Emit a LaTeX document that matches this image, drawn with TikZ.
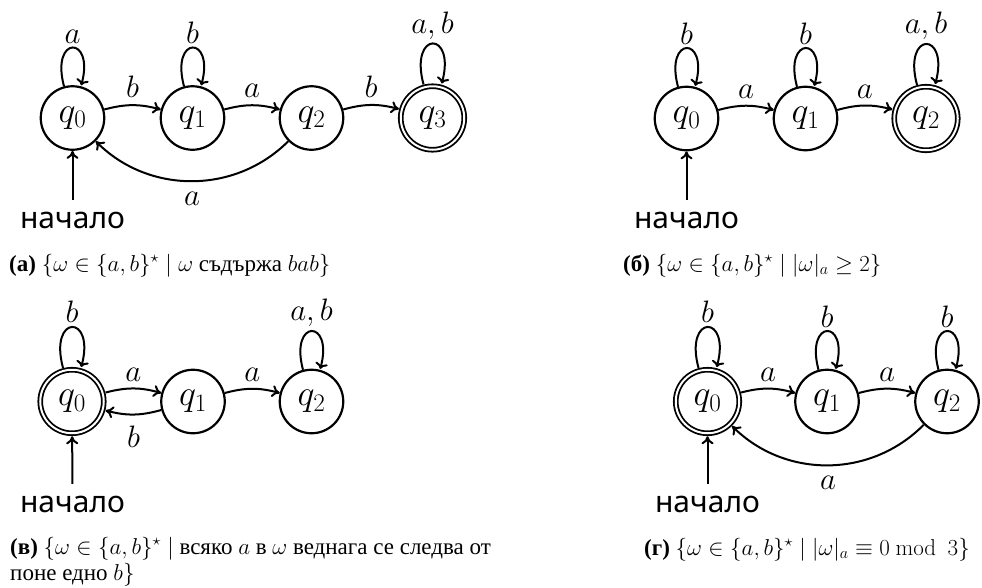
\RequirePackage{fix-cm}
\documentclass[tikz,border=0pt]{standalone}
\usepackage{amsmath}
\usepackage[no-math]{fontspec}
\setmainfont{Liberation Serif}
\newfontfamily\startfont{Noto Sans}
\usetikzlibrary{arrows.meta}
\begin{document}
\begin{tikzpicture}[x=1pt,y=-1pt,
  state/.style={circle, draw, line width=2.2pt, minimum size=63.5pt, inner sep=0pt, outer sep=1.1pt,
    font=\fontsize{36}{38}\selectfont},
  acc/.style={state, double, line width=1.8pt, double distance=2pt, outer sep=3pt},
  tr/.style={draw, line width=2pt, -{To[length=8pt,width=12pt]}},
  lab/.style={font=\fontsize{31}{33}\selectfont},
  labup/.style={lab, above=3pt},
  labdown/.style={lab, below=7pt},
  startlab/.style={font=\startfont\fontsize{30}{32}\selectfont, inner xsep=2pt, inner ysep=11pt,
    text height=17pt, text depth=0pt, anchor=base},
  capt/.style={font=\fontsize{23}{26}\selectfont, anchor=base west, inner sep=0pt, align=left}]
\useasboundingbox (0,0) rectangle (982,587);

% (a)
\node[state] (a0) at (72.5,118) {$q_0$};
\node[state] (a1) at (192.5,118) {$q_1$};
\node[state] (a2) at (311.5,118) {$q_2$};
\node[acc]   (a3) at (432.5,118) {$q_3$};
\node[startlab] (as) at (72.5,228) {начало};
\path (as) edge[tr] (a0)
  (a0) edge[tr, loop above] node[above, lab] {$a$} ()
  (a1) edge[tr, loop above] node[above, lab] {$b$} ()
  (a3) edge[tr, loop above] node[above, lab] {$a,b$} ()
  (a0) edge[tr, bend left=15] node[labup] {$b$} (a1)
  (a1) edge[tr, bend left=15] node[labup] {$a$} (a2)
  (a2) edge[tr, bend left=15] node[labup] {$b$} (a3)
  (a2) edge[tr, bend left=45] node[labdown] {$a$} (a0);
\node[capt] (acap) at (9,271) {\textbf{(а)} $\{\omega\in\{a,b\}^\star \mid \omega$ съдържа $bab\}$};

% (b)
\node[state] (b0) at (686.5,118.5) {$q_0$};
\node[state] (b1) at (805.5,118.5) {$q_1$};
\node[acc]   (b2) at (926,118.5) {$q_2$};
\node[startlab] (bs) at (686.5,228) {начало};
\path (bs) edge[tr] (b0)
  (b0) edge[tr, loop above] node[above, lab] {$b$} ()
  (b1) edge[tr, loop above] node[above, lab] {$b$} ()
  (b2) edge[tr, loop above] node[above, lab] {$a,b$} ()
  (b0) edge[tr, bend left=15] node[labup] {$a$} (b1)
  (b1) edge[tr, bend left=15] node[labup] {$a$} (b2);
\node[capt] (bcap) at (623,271) {\textbf{(б)} $\{\omega\in\{a,b\}^\star \mid |\omega|_a \geq 2\}$};

% (c)
\node[acc]   (c0) at (72,401.5) {$q_0$};
\node[state] (c1) at (193,401.5) {$q_1$};
\node[state] (c2) at (311.5,401.5) {$q_2$};
\node[startlab] (cs) at (72.5,512) {начало};
\path (cs) edge[tr] (c0)
  (c0) edge[tr, loop above] node[above, lab] {$b$} ()
  (c2) edge[tr, loop above] node[above, lab] {$a,b$} ()
  (c0) edge[tr, bend left=15] node[labup] {$a$} (c1)
  (c1) edge[tr, bend left=15] node[labdown] {$b$} (c0)
  (c1) edge[tr, bend left=15] node[labup] {$a$} (c2);
\node[capt] (ccap) at (10,580) {\textbf{(в)} $\{\omega\in\{a,b\}^\star \mid$ всяко $a$ в $\omega$ веднага се следва от\\поне едно $b\}$};

% (d)
\node[acc]   (d0) at (707.5,401.5) {$q_0$};
\node[state] (d1) at (827,401.5) {$q_1$};
\node[state] (d2) at (947,401.5) {$q_2$};
\node[startlab] (ds) at (707.5,512) {начало};
\path (ds) edge[tr] (d0)
  (d0) edge[tr, loop above] node[above, lab] {$b$} ()
  (d1) edge[tr, loop above] node[above, lab] {$b$} ()
  (d2) edge[tr, loop above] node[above, lab] {$b$} ()
  (d0) edge[tr, bend left=15] node[labup] {$a$} (d1)
  (d1) edge[tr, bend left=15] node[labup] {$a$} (d2)
  (d2) edge[tr, bend left=45] node[labdown] {$a$} (d0);
\node[capt] (dcap) at (644,555) {\textbf{(г)} $\{\omega\in\{a,b\}^\star \mid |\omega|_a \equiv 0\ \mathrm{mod}\ \ 3\}$};
\end{tikzpicture}
\end{document}
